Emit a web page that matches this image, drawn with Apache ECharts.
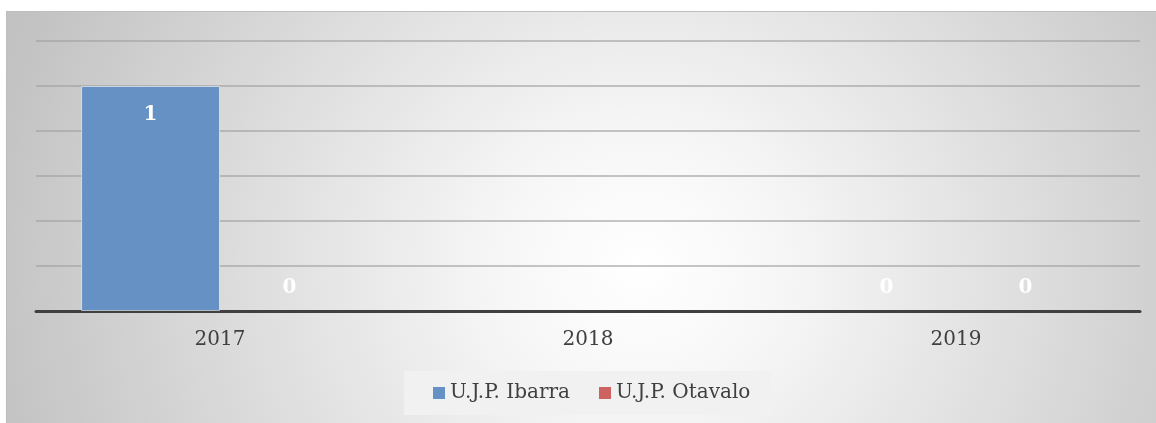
<!DOCTYPE html>
<html>
<head>
<meta charset="utf-8">
<script src="https://cdn.jsdelivr.net/npm/echarts@6/dist/echarts.min.js"></script>
<style>
  html, body { margin: 0; padding: 0; background: #fff; }
  #panel {
    position: absolute; left: 6px; top: 11px; width: 1150px; height: 412px;
    background: radial-gradient(ellipse 58% 150% at 55% 62%, #ffffff 0%, #f6f6f6 22%, #c2c2c2 100%);
    border-top: 1px solid #bdbdbd; border-left: 1px solid #bdbdbd;
  }
  #chart { position: absolute; left: 0; top: 0; width: 1156px; height: 423px; }
</style>
</head>
<body>
<div id="panel"></div>
<div id="chart"></div>
<script>
// categorias y series
const years = ['2017', '2018', '2019']
const ibarra = [1, null, 0]
const otavalo = [0, null, 0]
const seriesNames = ['U.J.P. Ibarra', 'U.J.P. Otavalo']
const colors = ['#6591C4', '#CD6360']

const serif = 'DejaVu Serif'

// etiquetas: dentro arriba si hay barra, encima si es cero
function toItems(values) {
  return values.map((v) => {
    if (v === null) return { value: null }
    return {
      value: v,
      itemStyle: { borderWidth: v > 0 ? 1 : 0 },
      label: v > 0
        ? { position: 'insideTop', distance: 19 }
        : { position: 'top', distance: 13 }
    }
  })
}

const chart = echarts.init(document.getElementById('chart'))
const option = {
  animation: false,
  color: colors,
  grid: { left: 36, right: 16, top: 41, bottom: 112 },
  legend: {
    data: seriesNames,
    bottom: 8,
    left: 404,
    icon: 'rect',
    itemWidth: 12,
    itemHeight: 12,
    itemGap: 29,
    padding: [12, 21, 12, 29],
    backgroundColor: '#f1f1f1',
    textStyle: { fontFamily: serif, fontSize: 20, color: '#404040' }
  },
  xAxis: {
    type: 'category',
    data: years,
    axisTick: { show: false },
    axisLine: { lineStyle: { color: '#404040', width: 3 } },
    axisLabel: { fontFamily: serif, fontSize: 20, color: '#404040', margin: 19 }
  },
  yAxis: {
    type: 'value',
    min: 0,
    max: 1.2,
    interval: 0.2,
    axisLabel: { show: false },
    axisLine: { show: false },
    axisTick: { show: false },
    splitLine: { lineStyle: { color: '#a0a0a0', width: 2, opacity: 0.6 } }
  },
  series: [
    {
      name: seriesNames[0],
      type: 'bar',
      data: toItems(ibarra),
      barGap: '0%',
      barCategoryGap: '24.5%',
      itemStyle: { borderColor: 'rgba(255,255,255,0.55)' },
      label: { show: true, color: '#fff', fontFamily: serif, fontWeight: 'bold', fontSize: 20 }
    },
    {
      name: seriesNames[1],
      type: 'bar',
      data: toItems(otavalo),
      itemStyle: { borderColor: 'rgba(255,255,255,0.55)' },
      label: { show: true, color: '#fff', fontFamily: serif, fontWeight: 'bold', fontSize: 20 }
    }
  ]
}
chart.setOption(option)
</script>
</body>
</html>
